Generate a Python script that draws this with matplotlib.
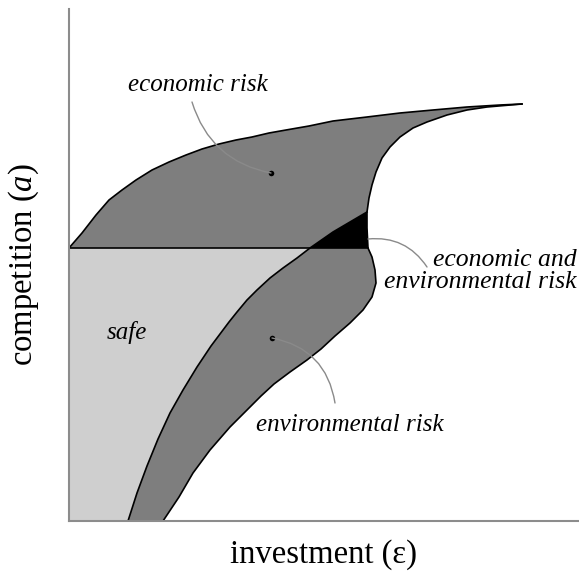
import numpy as np
import matplotlib
matplotlib.use("Agg")
import matplotlib.pyplot as plt

plt.rcParams["font.family"] = ["Liberation Serif", "DejaVu Serif"]
plt.rcParams["mathtext.fontset"] = "custom"
plt.rcParams["mathtext.it"] = "Liberation Serif:italic"
plt.rcParams["mathtext.rm"] = "Liberation Serif"

# schematic boundaries (arbitrary units, x: investment, a: competition)
a_threshold = 273

# upper edge of the economic-risk region, left to the tip
top_x = [0, 13, 27, 40, 53, 67, 83, 100, 117, 133, 150, 167, 183, 200, 217, 240,
         264, 298, 331, 364, 398, 431, 453]
top_y = [273, 288, 306, 321, 331, 341, 351, 359, 366, 372, 377, 381, 384, 388, 391, 395,
         400, 404, 408, 411, 414, 416, 417]

# right edge from the tip down to the x axis (economic then environmental)
right_x = [453, 418, 398, 378, 358, 344, 331, 321, 313, 307, 303, 300, 298, 298, 299,
           303, 306, 307, 303, 294, 281, 266, 252, 238, 221, 205, 192, 180, 161, 141,
           124, 110, 94]
right_y = [417, 414, 411, 406, 399, 393, 384, 374, 363, 349, 336, 323, 309, 293, 273,
           264, 251, 238, 224, 211, 198, 185, 172, 161, 149, 137, 125, 113, 94, 71,
           48, 24, 0]

# left edge of environmental risk, from the junction down to the x axis
left_x = [298, 281, 264, 241, 228, 214, 201, 188, 178, 168, 160, 142, 128, 114, 101, 89, 78, 68, 59]
left_y = [309, 299, 289, 273, 263, 253, 243, 231, 221, 209, 199, 175, 154, 131, 108, 82, 55, 28, 0]

dark = "#7e7e7e"
light = "#cfcfcf"

fig = plt.figure(figsize=(5.79, 5.72), dpi=100)
ax = fig.add_axes([69 / 579, 51 / 572, 510 / 579, 512 / 572])

tx, ty = np.array(top_x), np.array(top_y)
rx, ry = np.array(right_x), np.array(right_y)
lx, ly = np.array(left_x), np.array(left_y)
cross = list(ly).index(a_threshold)
rcross = list(ry).index(a_threshold)
junc = list(ry).index(ly[0])

# safe region
ax.fill(np.r_[0, lx[cross:], 0], np.r_[a_threshold, ly[cross:], 0], color=light, lw=0)
# risky regions (dark grey)
ax.fill(np.r_[tx, rx, lx[cross:][::-1]], np.r_[ty, ry, ly[cross:][::-1]], color=dark, lw=0)
# overlap of both risks
ax.fill(np.r_[lx[:cross + 1], rx[junc:rcross + 1][::-1]],
        np.r_[ly[:cross + 1], ry[junc:rcross + 1][::-1]], color="black", lw=0)

line = dict(color="black", lw=1.2, solid_joinstyle="round")
ax.plot(tx, ty, **line)
ax.plot(rx, ry, **line)
ax.plot(lx, ly, **line)
ax.plot([0, rx[rcross]], [a_threshold, a_threshold], **line)

lead = dict(arrowstyle="-", color="#8a8a8a", lw=1.0, shrinkA=0, shrinkB=0)
ax.annotate("", xy=(202, 348), xytext=(123, 419),
            arrowprops=dict(lead, connectionstyle="arc3,rad=0.3"))
ax.annotate("", xy=(266, 118), xytext=(203, 183),
            arrowprops=dict(lead, connectionstyle="arc3,rad=-0.35"))
ax.annotate("", xy=(358, 254), xytext=(299, 282),
            arrowprops=dict(lead, connectionstyle="arc3,rad=-0.3"))
ax.plot([202, 203], [348, 183], "o", color="black", ms=4, mew=0, ls="none")

ax.text(129, 436, "economic risk", style="italic", fontsize=18, ha="center", va="center")
ax.text(58, 188, "safe", style="italic", fontsize=18, ha="center", va="center")
ax.text(281, 96, "environmental risk", style="italic", fontsize=18, ha="center", va="center")
ax.text(508, 250, "economic and\nenvironmental risk", style="italic", fontsize=18.5,
        ha="right", va="center", multialignment="right", linespacing=0.95)

ax.set_xlim(0, 510)
ax.set_ylim(0, 512)
ax.set_xticks([])
ax.set_yticks([])
for s in ["top", "right"]:
    ax.spines[s].set_visible(False)
for s in ["left", "bottom"]:
    ax.spines[s].set_color("#8c8c8c")
    ax.spines[s].set_linewidth(1.5)

ax.set_xlabel("investment (ε)", fontsize=23.5, labelpad=13)
ax.set_ylabel("competition ($a$)", fontsize=23.5, labelpad=20)

fig.savefig("out.png", dpi=100)
